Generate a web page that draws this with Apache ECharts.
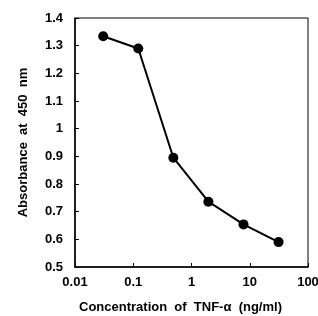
<!DOCTYPE html>
<html>
<head>
<meta charset="utf-8">
<script src="https://cdn.jsdelivr.net/npm/echarts@6/dist/echarts.min.js"></script>
<style>
  html, body { margin: 0; padding: 0; background: #fff; }
  #chart { width: 318px; height: 316px; }
</style>
</head>
<body>
<div id="chart"></div>
<script>
// TNF-α concentration (ng/ml) vs absorbance
var concentrations = [0.0305, 0.122, 0.488, 1.95, 7.81, 31.25];
var absorbance = [1.334, 1.290, 0.895, 0.736, 0.654, 0.590];

var points = concentrations.map(function (c, i) { return [c, absorbance[i]]; });

var chart = echarts.init(document.getElementById('chart'));
var font = 'Liberation Sans, Arial, sans-serif';

chart.setOption({
  animation: false,
  grid: {
    left: 75, right: 10, top: 18, bottom: 49,
    outerBoundsMode: 'none',
    show: true, borderColor: '#000', borderWidth: 1
  },
  xAxis: {
    type: 'log',
    logBase: 10,
    min: 0.01,
    max: 100,
    name: 'Concentration  of  TNF-\u03b1  (ng/ml)',
    nameLocation: 'middle',
    nameGap: 34,
    nameTextStyle: { fontFamily: font, fontWeight: 'bold', fontSize: 13, color: '#000', padding: [0, 22, 0, 0] },
    axisLine: { lineStyle: { color: '#000', width: 1.5 } },
    axisTick: { inside: true, length: 4, lineStyle: { color: '#000' } },
    axisLabel: { fontFamily: font, fontWeight: 'bold', fontSize: 13, color: '#000', margin: 9 },
    splitLine: { show: false },
    minorTick: { show: false }
  },
  yAxis: {
    type: 'value',
    min: 0.5,
    max: 1.4,
    interval: 0.1,
    name: 'Absorbance  at  450  nm',
    nameLocation: 'middle',
    nameGap: 45,
    nameTextStyle: { fontFamily: font, fontWeight: 'bold', fontSize: 13, color: '#000' },
    axisLine: { show: true, lineStyle: { color: '#000', width: 1.5 } },
    axisTick: { show: true, inside: true, length: 4, lineStyle: { color: '#000' } },
    axisLabel: { fontFamily: font, fontWeight: 'bold', fontSize: 13, color: '#000', margin: 12,
      formatter: function (v) { return String(Math.round(v * 10) / 10); } },
    splitLine: { show: false }
  },
  series: [{
    type: 'line',
    data: points,
    symbol: 'circle',
    symbolSize: 10,
    itemStyle: { color: '#000' },
    lineStyle: { color: '#000', width: 2 }
  }]
});
</script>
</body>
</html>
